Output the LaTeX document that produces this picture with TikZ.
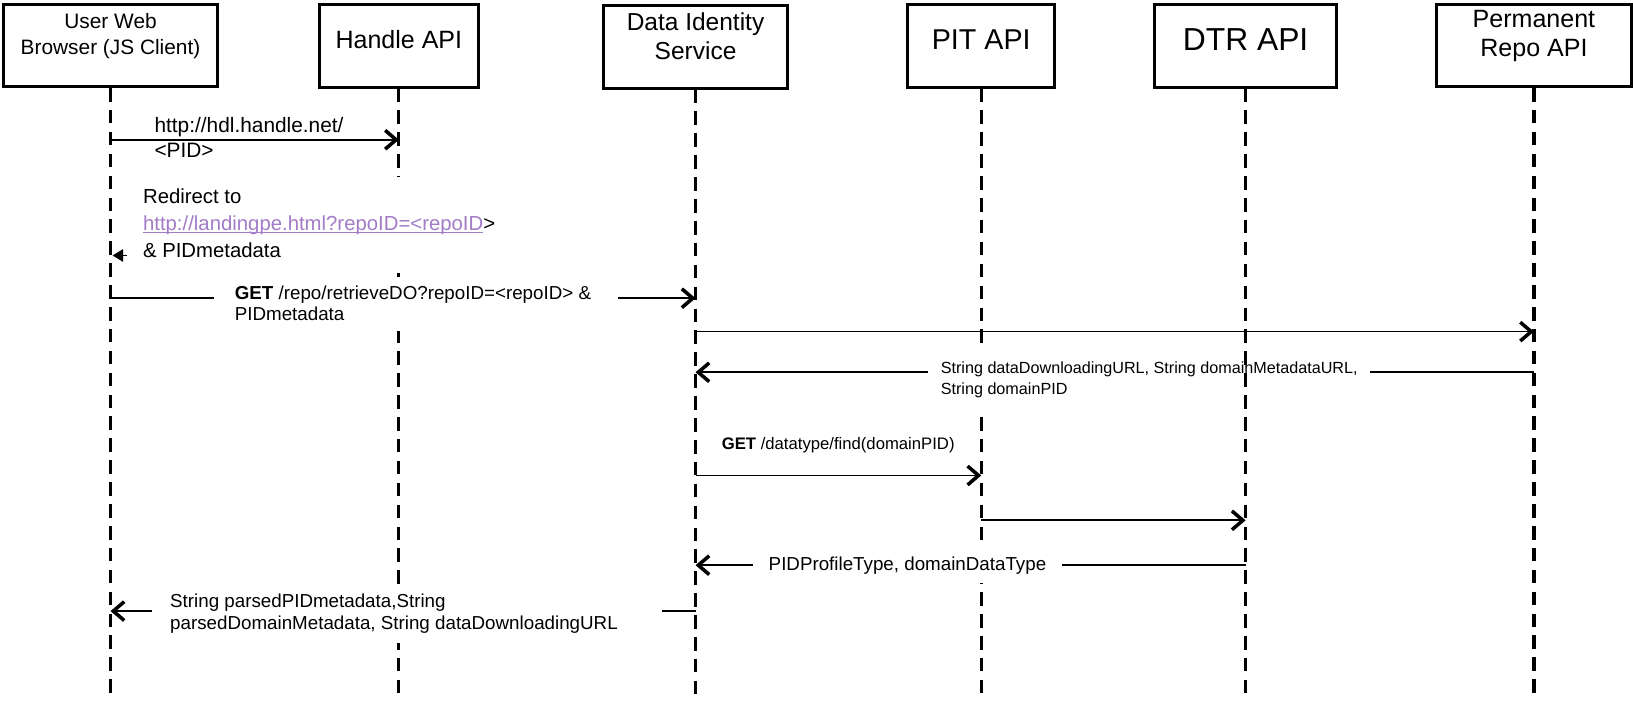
\documentclass[tikz,border=0pt]{standalone}
\usepackage{fontspec}
\setmainfont{Liberation Sans}
\usetikzlibrary{arrows.meta}
\definecolor{linkpurple}{HTML}{A27CC7}
\begin{document}
\begin{tikzpicture}[x=1pt,y=-1pt,
  box/.style={draw,line width=2.8pt,minimum height=79pt,inner sep=0pt},
  title/.style={align=center,inner sep=0pt},
  life/.style={line width=3pt,dash pattern=on 13pt off 8pt},
  msg/.style={line width=1.7pt,-{Straight Barb[length=10.5pt,width=18pt,line width=3.4pt]}},
  lbl/.style={fill=white,inner sep=0pt,anchor=base west},
  plain/.style={inner sep=0pt,anchor=base west}
]
\useasboundingbox (0,0) rectangle (1566,681.8);

% actor boxes
\node[box,minimum width=205pt] (user) at (106,43.5) {};
\node[box,minimum width=152pt] (handle) at (382.5,44) {};
\node[box,minimum width=177pt] (dis) at (667,45) {};
\node[box,minimum width=141pt] (pit) at (941,44) {};
\node[box,minimum width=174pt] (dtr) at (1194.5,44) {};
\node[box,minimum width=187pt] (repo) at (1471,43.5) {};

% titles
\node[title,font=\fontsize{20}{25}\selectfont] (usert) at (106,34.5) {User Web\\Browser (JS Client)};
\node[title,font=\fontsize{24}{28}\selectfont] (handlet) at (382.5,38) {Handle API};
\node[title,font=\fontsize{23.5}{28}\selectfont] (dist) at (667,35) {Data Identity\\Service};
\node[title,font=\fontsize{27.5}{30}\selectfont] (pitt) at (941,38) {PIT API};
\node[title,font=\fontsize{30.5}{32}\selectfont] (dtrt) at (1194.5,38) {DTR API};
\node[title,font=\fontsize{24}{27}\selectfont] (repot) at (1471,34.5) {Permanent\\Repo API};

% lifeline ends
\coordinate (userE) at (user.south |- 0,672);
\coordinate (handleE) at (handle.south |- 0,672);
\coordinate (disE) at (dis.south |- 0,672);
\coordinate (pitE) at (pit.south |- 0,672);
\coordinate (dtrE) at (dtr.south |- 0,672);
\coordinate (repoE) at (repo.south |- 0,672);

\draw[life] (user.south) -- (userE);
\draw[life] (handle.south) -- (handleE);
\draw[life] (dis.south) -- (disE);
\draw[life] (pit.south) -- (pitE);
\draw[life] (repo.south) -- (repoE);

% messages
\draw[msg] (user.south |- 0,134) -- (handle.south |- 0,134);
\draw[line width=1pt,-{Triangle[length=10pt,width=12pt]},shorten >=2pt] (handle.south |- 0,245) -- (user.south |- 0,245);
\draw[msg] (user.south |- 0,286) -- (dis.south |- 0,286);
\draw[msg] (dis.south |- 0,318) -- (repo.south |- 0,318);
\draw[msg] (repo.south |- 0,357) -- (dis.south |- 0,357);
\draw[msg] (dis.south |- 0,456) -- (pit.south |- 0,456);
\draw[msg] (pit.south |- 0,499) -- (dtr.south |- 0,499);
\draw[msg] (dtr.south |- 0,542) -- (dis.south |- 0,542);
\draw[msg] (dis.south |- 0,586) -- (user.south |- 0,586);

% labels
\node[plain,font=\fontsize{20}{24}\selectfont] (l1) at (148,126.6)
  {\begin{tabular}[t]{@{}l@{}}http://hdl.handle.net/\\<PID>\end{tabular}};
\node[lbl,inner xsep=15pt,inner ysep=7.6pt,font=\fontsize{19.5}{25.5}\selectfont] (l2) at (122,195.5)
  {\begin{tabular}[t]{@{}l@{}}Redirect to\\\textcolor{linkpurple}{\underline{\smash{http://landingpe.html?repoID=<repoID}}}>\\\& PIDmetadata\end{tabular}};
\node[lbl,inner xsep=20pt,inner ysep=4pt,font=\fontsize{18}{20}\selectfont] (l3) at (205,287)
  {\begin{tabular}[t]{@{}l@{\hspace{6pt}}}\textbf{GET} /repo/retrieveDO?repoID=<repoID> \&\\PIDmetadata\end{tabular}};
\node[lbl,inner xsep=12pt,inner ysep=9pt,font=\fontsize{15.5}{20}\selectfont] (l5) at (890,358)
  {\begin{tabular}[t]{@{}l@{}}String dataDownloadingURL, String domainMetadataURL,\\String domainPID\end{tabular}};
\node[plain,font=\fontsize{16}{19}\selectfont] (l6) at (692,431) {\textbf{GET} /datatype/find(domainPID)};
\node[lbl,inner xsep=15pt,inner ysep=8pt,font=\fontsize{18}{21}\selectfont] (l8) at (722,547) {PIDProfileType, domainDataType};
\node[lbl,inner xsep=17pt,inner ysep=6pt,font=\fontsize{18}{21}\selectfont] (l9) at (146,583)
  {\begin{tabular}[t]{@{}l@{\hspace{25pt}}}String parsedPIDmetadata,String\\parsedDomainMetadata, String dataDownloadingURL\end{tabular}};

% DTR lifeline drawn over the labels
\draw[life] (dtr.south) -- (dtrE);
\end{tikzpicture}
\end{document}
